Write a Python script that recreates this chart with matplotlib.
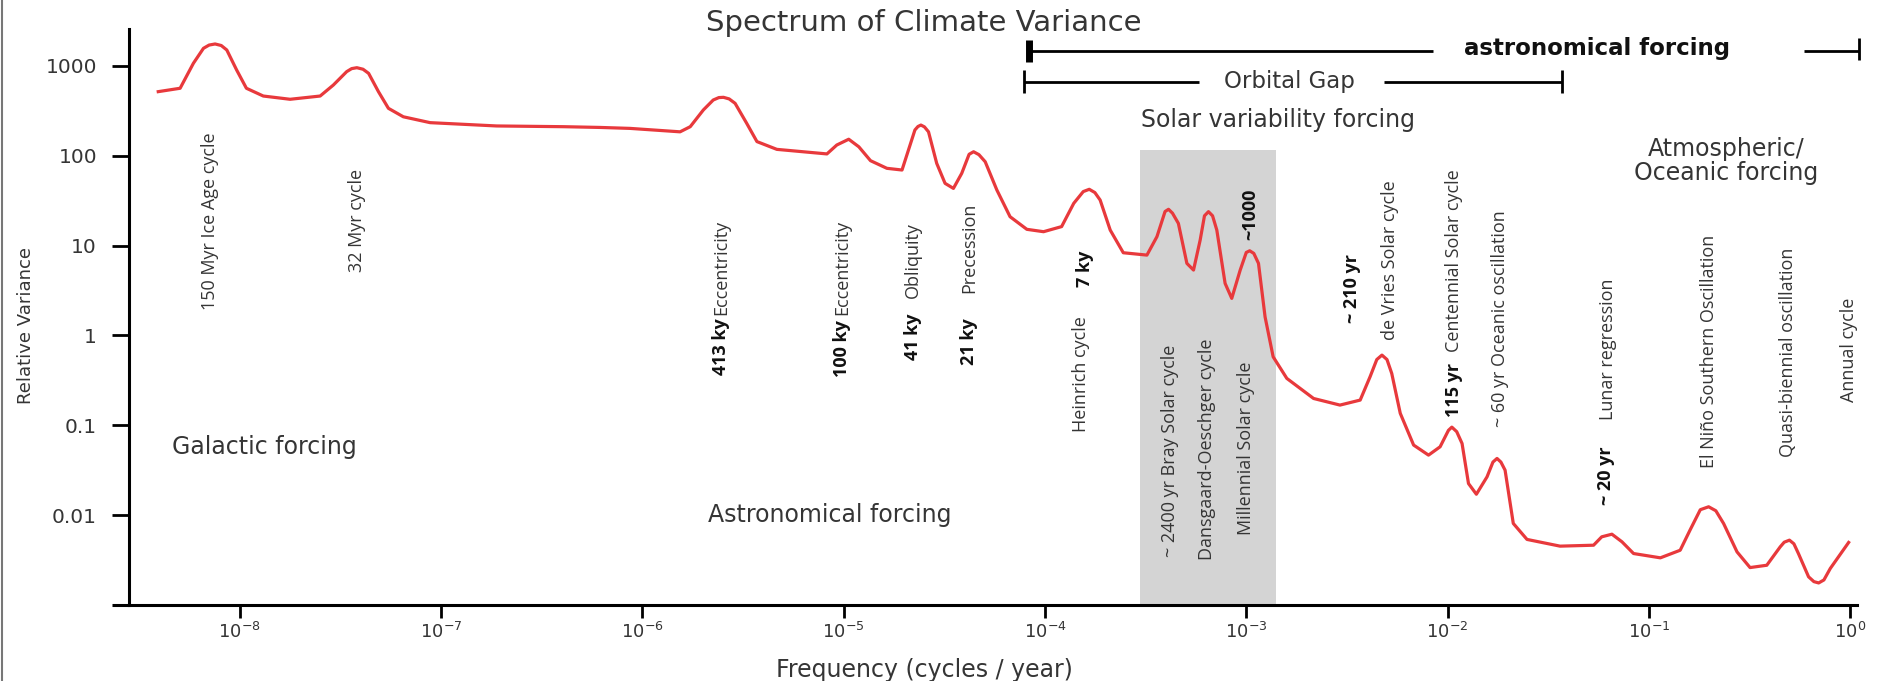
import matplotlib.pyplot as plt
from matplotlib import font_manager
from matplotlib.lines import Line2D
from matplotlib.patches import Rectangle
from matplotlib.ticker import NullLocator

# spectrum (cycles/year, relative variance)
freq = [3.94e-9, 5.06e-9, 5.89e-9, 6.61e-9, 7.05e-9, 7.55e-9, 8.1e-9, 8.63e-9, 9.66e-9, 1.08e-8,
        1.31e-8, 1.78e-8, 2.51e-8, 2.92e-8, 3.40e-8, 3.6e-8, 3.82e-8, 4.1e-8, 4.37e-8, 4.89e-8,
        5.48e-8, 6.50e-8, 8.83e-8, 1.89e-7, 4.06e-7, 6.17e-7, 8.69e-7, 1.54e-6, 1.73e-6, 2.01e-6,
        2.25e-6, 2.4e-6, 2.53e-6, 2.7e-6, 2.89e-6, 3.30e-6, 3.71e-6, 4.66e-6, 8.26e-6, 9.25e-6,
        1.06e-5, 1.19e-5, 1.36e-5, 1.64e-5, 1.95e-5, 2.10e-5, 2.26e-5, 2.34e-5, 2.42e-5, 2.52e-5,
        2.64e-5, 2.90e-5, 3.19e-5, 3.51e-5, 3.86e-5, 4.2e-5, 4.42e-5, 4.7e-5, 5.05e-5, 5.77e-5,
        6.71e-5, 8.13e-5, 9.84e-5, 1.21e-4, 1.39e-4, 1.55e-4, 1.66e-4, 1.77e-4, 1.88e-4, 2.11e-4,
        2.45e-4, 3.21e-4, 3.60e-4, 3.95e-4, 4.11e-4, 4.3e-4, 4.60e-4, 5.07e-4, 5.47e-4, 5.90e-4,
        6.2e-4, 6.49e-4, 6.8e-4, 7.14e-4, 7.85e-4, 8.47e-4, 9.33e-4, 1.0e-3, 1.04e-3, 1.09e-3,
        1.15e-3, 1.24e-3, 1.36e-3, 1.59e-3, 2.16e-3, 2.92e-3, 3.68e-3, 4.12e-3, 4.45e-3, 4.72e-3,
        5.0e-3, 5.28e-3, 5.82e-3, 6.78e-3, 8.04e-3, 9.18e-3, 1.01e-2, 1.05e-2, 1.11e-2, 1.18e-2,
        1.27e-2, 1.39e-2, 1.57e-2, 1.68e-2, 1.76e-2, 1.84e-2, 1.93e-2, 2.12e-2, 2.48e-2, 3.62e-2,
        5.31e-2, 5.83e-2, 6.55e-2, 7.35e-2, 8.39e-2, 0.114, 0.143, 0.160, 0.18, 0.198,
        0.215, 0.235, 0.274, 0.318, 0.385, 0.449, 0.47, 0.499, 0.525, 0.553,
        0.621, 0.66, 0.697, 0.74, 0.796, 0.982]
variance = [518, 565, 1072, 1574, 1710, 1758, 1690, 1507, 902, 565,
            463, 426, 463, 614, 865, 935, 957, 920, 828, 518,
            338, 272, 234, 215, 211, 207, 202, 185, 211, 324,
            418, 445, 448, 430, 384, 230, 144, 118, 105, 132,
            153, 126, 88.3, 72.6, 69.5, 116, 194, 212, 220, 210,
            185, 82.4, 49.4, 43.4, 63.8, 104, 111, 103, 85.9, 41.6,
            21.0, 15.2, 14.3, 16.3, 29.6, 40, 42.4, 39, 32.2, 14.9,
            8.34, 7.85, 12.6, 24, 25.4, 23, 17.7, 6.35, 5.35, 11.5,
            21.5, 23.9, 21.5, 14.9, 3.80, 2.59, 5.35, 8.4, 8.77, 8.2,
            6.35, 1.61, 0.579, 0.333, 0.199, 0.168, 0.191, 0.347, 0.54, 0.605,
            0.54, 0.378, 0.136, 0.0603, 0.0466, 0.0577, 0.088, 0.0955, 0.085, 0.0628,
            0.0225, 0.0171, 0.0267, 0.039, 0.0428, 0.039, 0.0317, 0.00809, 0.00537, 0.00452,
            0.00463, 0.00574, 0.00614, 0.00505, 0.00374, 0.00335, 0.00407, 0.00681, 0.0115, 0.0124,
            0.0112, 0.00807, 0.00390, 0.00261, 0.00277, 0.00444, 0.0050, 0.00527, 0.0048, 0.00374,
            0.00206, 0.00182, 0.00176, 0.00190, 0.00255, 0.00497]

x_ticks = [1e-8, 1e-7, 1e-6, 1e-5, 1e-4, 1e-3, 1e-2, 1e-1, 1e0]
y_ticks = [0.01, 0.1, 1, 10, 100, 1000]
y_tick_labels = ["0.01", "0.1", "1", "10", "100", "1000"]

# grey millennial band: low freq, high freq, top
band_lo, band_hi, band_top = 2.97e-4, 1.41e-3, 116

# vertical labels: text, freq, variance at foot of text, bold
cycle_labels = [
    ("150 Myr Ice Age cycle", 7.13e-9, 1.92, False),
    ("32 Myr cycle", 3.83e-8, 5.08, False),
    ("413 ky", 2.46e-6, 0.362, True),
    ("Eccentricity", 2.46e-6, 1.69, False),
    ("100 ky", 9.84e-6, 0.344, True),
    ("Eccentricity", 9.84e-6, 1.69, False),
    ("41 ky", 2.21e-5, 0.532, True),
    ("Obliquity", 2.21e-5, 2.61, False),
    ("21 ky", 4.20e-5, 0.468, True),
    ("Precession", 4.20e-5, 2.97, False),
    ("Heinrich cycle", 1.51e-4, 0.0839, False),
    ("7 ky", 1.58e-4, 3.46, True),
    ("~ 2400 yr Bray Solar cycle", 4.19e-4, 0.0034, False),
    ("Dansgaard-Oeschger cycle", 6.40e-4, 0.00316, False),
    ("Millennial Solar cycle", 1.0e-3, 0.00598, False),
    ("~1000", 1.05e-3, 11.5, True),
    ("~ 210 yr", 3.36e-3, 1.37, True),
    ("de Vries Solar cycle", 5.19e-3, 0.889, False),
    ("115 yr", 1.07e-2, 0.123, True),
    ("Centennial Solar cycle", 1.07e-2, 0.653, False),
    ("~ 60 yr Oceanic oscillation", 1.82e-2, 0.0955, False),
    ("~ 20 yr", 6.14e-2, 0.0129, True),
    ("Lunar regression", 6.28e-2, 0.114, False),
    ("El Niño Southern Oscillation", 0.1995, 0.0333, False),
    ("Quasi-biennial oscillation", 0.492, 0.0443, False),
    ("Annual cycle", 0.989, 0.181, False),
]

names = {f.name for f in font_manager.fontManager.ttflist}
if "Liberation Sans Narrow" in names:
    narrow, vsize, bsize = "Liberation Sans Narrow", 15, 16
else:
    narrow, vsize, bsize = "Open Sans", 13, 13

plt.rcParams["font.family"] = ["DejaVu Sans"]
grey = "#353535"

fig = plt.figure(figsize=(18.86, 6.81), dpi=100)
ax = fig.add_axes([0.0684, 0.1116, 0.9162, 0.8458])
ax.set_xscale("log")
ax.set_yscale("log")
ax.set_xlim(2.82e-9, 1.08)
ax.set_ylim(1e-3, 2580)

ax.add_patch(Rectangle((band_lo, 1e-3), band_hi - band_lo, band_top - 1e-3,
                       facecolor="#d4d4d4", edgecolor="none", zorder=0))
ax.plot(freq, variance, color="#e8393c", lw=2.3, solid_joinstyle="round", zorder=3)

ax.set_xticks(x_ticks)
ax.set_yticks(y_ticks, y_tick_labels)
ax.xaxis.set_minor_locator(NullLocator())
ax.yaxis.set_minor_locator(NullLocator())
ax.tick_params(axis="y", direction="out", length=12, width=2, pad=11,
               labelsize=14.5, labelcolor=grey)
ax.tick_params(axis="x", direction="out", length=9, width=2, pad=3,
               labelsize=13, labelcolor=grey)
for side in ("top", "right"):
    ax.spines[side].set_visible(False)
for side in ("left", "bottom"):
    ax.spines[side].set_linewidth(2.2)
# x axis line runs a little past the y axis
ax.plot([-0.0098, 0], [0, 0], transform=ax.transAxes, color="black", lw=2.2,
        clip_on=False, solid_capstyle="butt")

ax.set_xlabel("Frequency (cycles / year)", fontsize=17, color=grey, va="center")
ax.xaxis.set_label_coords(0.4606, -0.113)
ax.set_ylabel("Relative Variance", fontsize=13, color=grey, va="center")
ax.yaxis.set_label_coords(-0.0596, 0.486)

for text, x, y, bold in cycle_labels:
    ax.text(x, y, text, rotation=90, ha="center", va="bottom", family=narrow,
            fontsize=bsize if bold else vsize,
            fontweight="bold" if bold else "normal",
            color="#111111" if bold else grey, zorder=4)

# horizontal region notes
ax.text(4.61e-9, 0.0571, "Galactic forcing", fontsize=17, color=grey, va="center")
ax.text(2.12e-6, 0.01, "Astronomical forcing", fontsize=17, color=grey, va="center")
ax.text(3.01e-4, 251, "Solar variability forcing", fontsize=17, color=grey, va="center")
ax.text(0.242, 88.7, "Atmospheric/\nOceanic forcing", fontsize=17, color=grey,
        ha="center", va="center", multialignment="center", linespacing=1.0)
fig.text(0.49, 0.966, "Spectrum of Climate Variance", fontsize=21, color=grey,
         ha="center", va="center")

# brackets along the top
line = dict(color="black", lw=2, clip_on=False, solid_capstyle="butt")
ax.plot([8.34e-5, 8.48e-3], [1469, 1469], **line)
ax.plot([0.59, 1.108], [1469, 1469], **line)
ax.plot([8.34e-5, 8.34e-5], [1110, 1950], color="black", lw=5, clip_on=False,
        solid_capstyle="butt")
ax.plot([1.108, 1.108], [1166, 2051], **line)
ax.text(1.21e-2, 1585, "astronomical forcing", fontsize=16.5, fontweight="bold",
        color="#111111", va="center")

ax.plot([7.88e-5, 5.83e-4], [664, 664], **line)
ax.plot([4.84e-3, 0.0371], [664, 664], **line)
ax.plot([7.88e-5, 7.88e-5], [500, 902], **line)
ax.plot([0.0371, 0.0371], [500, 902], **line)
ax.text(7.76e-4, 664, "Orbital Gap", fontsize=16.5, color=grey, va="center")

# thin frame line on the left edge of the picture
fig.add_artist(Line2D([0.0012, 0.0012], [0, 1], transform=fig.transFigure,
                      color="#777777", lw=1.5))

fig.savefig("out.png", dpi=100)
